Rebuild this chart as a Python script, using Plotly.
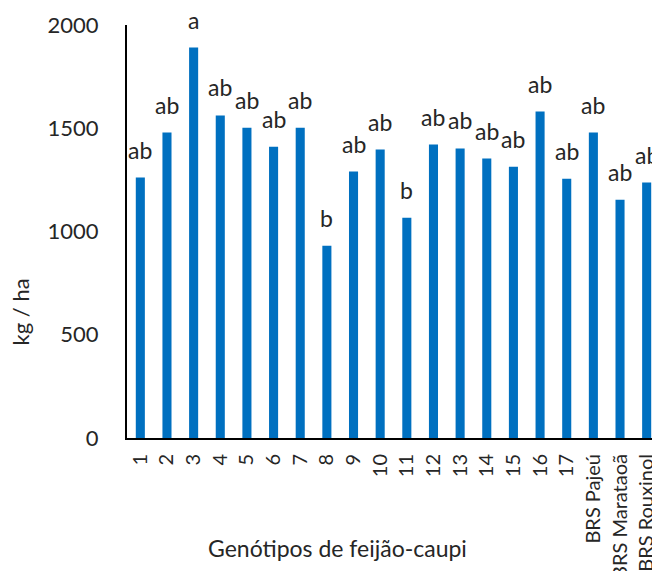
import plotly.graph_objects as go

categories = ["1", "2", "3", "4", "5", "6", "7", "8", "9", "10", "11", "12", "13",
              "14", "15", "16", "17", "BRS Pajeú", "BRS Marataoã", "BRS Rouxinol"]
values = [1261, 1479, 1891, 1562, 1503, 1411, 1503, 931, 1290, 1397, 1067, 1421,
          1402, 1353, 1314, 1581, 1256, 1479, 1154, 1237]
letters = ["ab", "ab", "a", "ab", "ab", "ab", "ab", "b", "ab", "ab", "b", "ab",
           "ab", "ab", "ab", "ab", "ab", "ab", "ab", "ab"]
y_ticks = [0, 500, 1000, 1500, 2000]

FONT = "Lato"
TXT = "#262626"

fig = go.Figure()
fig.add_trace(go.Bar(x=categories, y=values, marker_color="#0070C0",
                     marker_line_width=0))

for i, (v, t) in enumerate(zip(values, letters)):
    fig.add_annotation(x=i, y=v, text=t, showarrow=False, yanchor="bottom",
                       yshift=12, font=dict(family=FONT, size=23, color=TXT))

fig.add_annotation(xref="paper", yref="paper", x=0.394, y=-0.266,
                   text="Genótipos de feijão-caupi", showarrow=False,
                   xanchor="center", yanchor="middle",
                   font=dict(family=FONT, size=23, color=TXT))
fig.add_annotation(xref="paper", yref="paper", x=-0.2, y=0.305,
                   text="kg / ha", showarrow=False, textangle=-90,
                   xanchor="center", yanchor="middle",
                   font=dict(family=FONT, size=22, color=TXT))

fig.update_layout(
    width=652, height=563,
    margin=dict(l=119, r=0, t=17, b=133),
    plot_bgcolor="white", paper_bgcolor="white",
    bargap=0.66, showlegend=False,
    font=dict(family=FONT, color=TXT),
)
fig.update_xaxes(type="category", range=[-0.5, 19.5], showline=True,
                 linecolor="black", linewidth=2, tickangle=-90,
                 tickfont=dict(family=FONT, size=20, color=TXT),
                 ticklabelstandoff=6,
                 showgrid=False, automargin=False, ticks="")
fig.update_yaxes(range=[0, 2000], tickvals=y_ticks, showline=True,
                 linecolor="black", linewidth=2, showgrid=False,
                 tickfont=dict(family=FONT, size=22, color=TXT),
                 ticklabelstandoff=22, automargin=False, zeroline=False)

fig.write_html("out.html")
